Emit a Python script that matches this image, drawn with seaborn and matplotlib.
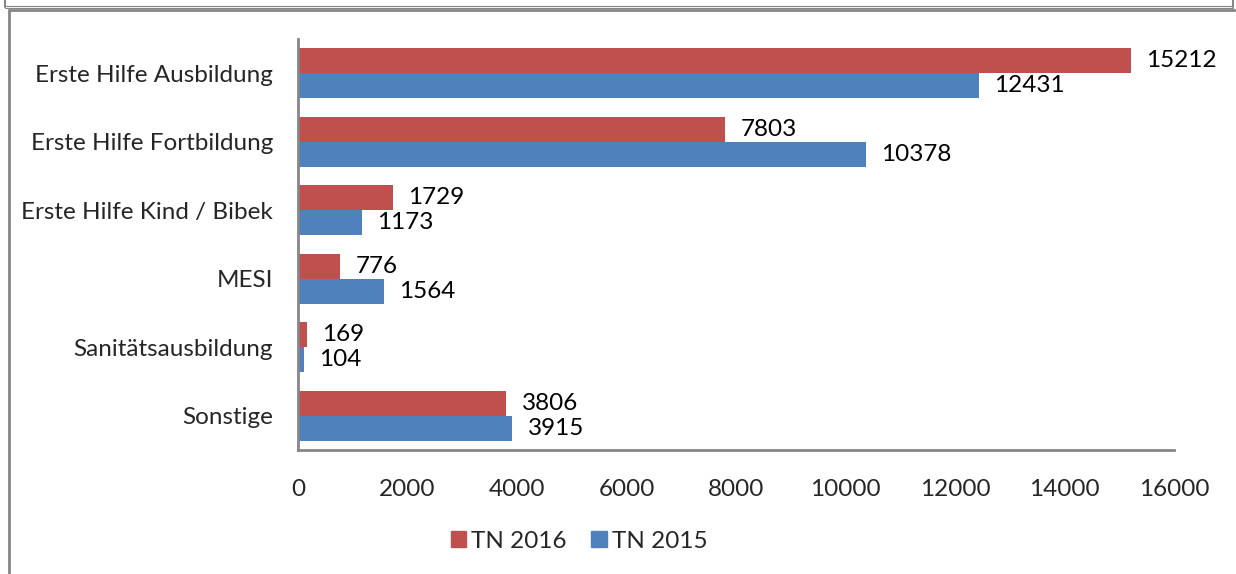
import matplotlib
matplotlib.use("Agg")
import matplotlib.pyplot as plt
from matplotlib.lines import Line2D
import seaborn as sns
import pandas as pd

# data
categories = [
    "Erste Hilfe Ausbildung",
    "Erste Hilfe Fortbildung",
    "Erste Hilfe Kind / Bibek",
    "MESI",
    "Sanitätsausbildung",
    "Sonstige",
]
tn_2016 = [15212, 7803, 1729, 776, 169, 3806]
tn_2015 = [12431, 10378, 1173, 1564, 104, 3915]
series_names = ["TN 2016", "TN 2015"]
x_ticks = [0, 2000, 4000, 6000, 8000, 10000, 12000, 14000, 16000]

RED = "#C0504D"
BLUE = "#4F81BD"
GRAY = "#868686"
FS = 17.5

W, H = 1236, 574

sns.set_style("white")
plt.rcParams["font.family"] = ["Lato", "DejaVu Sans"]

df = pd.DataFrame({
    "Kategorie": categories * 2,
    "Serie": [series_names[0]] * len(categories) + [series_names[1]] * len(categories),
    "Wert": tn_2016 + tn_2015,
})

fig = plt.figure(figsize=(W / 100, H / 100), dpi=100)
ax = fig.add_axes([298 / W, 1 - 450 / H, (1174 - 298) / W, (450 - 39) / H])

sns.barplot(data=df, y="Kategorie", x="Wert", hue="Serie",
            order=categories, hue_order=series_names,
            palette=[RED, BLUE], saturation=1, width=0.73, linewidth=0,
            errorbar=None, ax=ax)

for cont in ax.containers:
    ax.bar_label(cont, padding=11, fontsize=FS, color="black")

ax.set_xlim(0, 16000)
ax.set_xticks(x_ticks)
ax.set_xticklabels([str(t) for t in x_ticks])
ax.set_xlabel("")
ax.set_ylabel("")
ax.tick_params(axis="x", length=0, pad=21, labelsize=FS)
ax.tick_params(axis="y", length=0, pad=18, labelsize=FS)

for side in ["top", "right"]:
    ax.spines[side].set_visible(False)
for side in ["left", "bottom"]:
    ax.spines[side].set_color(GRAY)
    ax.spines[side].set_linewidth(2)

ax.legend_.remove()
handles = [plt.Rectangle((0, 0), 1, 1, color=RED), plt.Rectangle((0, 0), 1, 1, color=BLUE)]
fig.legend(handles, series_names, loc="center", bbox_to_anchor=(579 / W, 1 - 541 / H),
           ncol=2, frameon=False, fontsize=FS, handlelength=0.65, handleheight=0.65,
           handletextpad=0.2, columnspacing=1.0)


# frame lines in pixel coordinates
def px_line(x0, y0, x1, y1, lw=1.5):
    fig.add_artist(Line2D([x0 / W, x1 / W], [1 - y0 / H, 1 - y1 / H],
                          transform=fig.transFigure, color=GRAY, linewidth=lw))


# box above (only its bottom visible)
px_line(5, 0, 5, 7)
px_line(1233, 0, 1233, 7)
px_line(5, 6, 1233, 6, lw=0.8)
px_line(5, 8, 1233, 8, lw=0.8)
# main frame
px_line(9, 10, 9, H, lw=2)
px_line(9, 10, W, 10, lw=2)

fig.savefig("out.png", dpi=100)
